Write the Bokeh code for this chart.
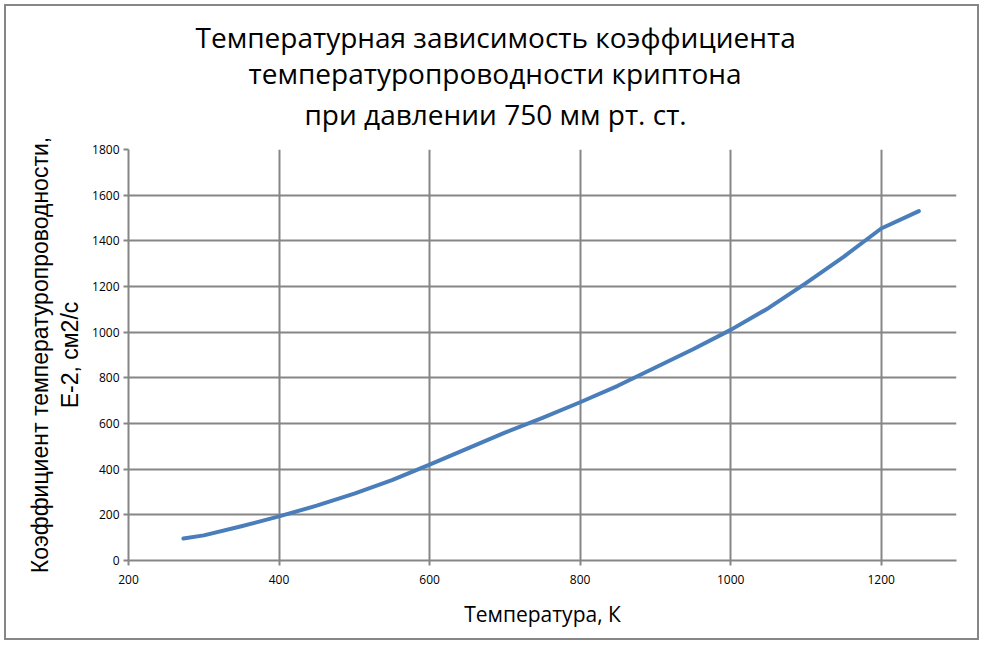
from bokeh.plotting import figure
from bokeh.models import FixedTicker, LinearAxis, Title
from bokeh.embed import file_html
from bokeh.resources import INLINE

# Data
temperature_K = [273, 300, 350, 400, 450, 500, 550, 600, 650, 700, 750, 800,
                 850, 900, 950, 1000, 1050, 1100, 1150, 1200, 1250]
diffusivity = [96, 110, 150, 193, 240, 293, 352, 420, 490, 560, 625, 693,
               765, 845, 925, 1010, 1105, 1215, 1330, 1454, 1530]

x_ticks = [200, 400, 600, 800, 1000, 1200]
y_ticks = [0, 200, 400, 600, 800, 1000, 1200, 1400, 1600, 1800]

title_lines = ["Температурная  зависимость  коэффициента",
               "температуропроводности  криптона",
               "при  давлении 750 мм рт. ст."]
y_label_lines = ["Коэффициент температуропроводности,", "E-2, см2/с"]
x_label = "Температура, К"

GRID = "#868686"
LINE = "#4a7ebb"

p = figure(width=975, height=636, x_range=(200, 1300), y_range=(0, 1800),
           output_backend="svg", toolbar_location=None, title=None,
           min_border_left=122, min_border_right=25,
           min_border_top=143, min_border_bottom=82)
p.outline_line_color = None
p.background_fill_color = "white"
p.border_fill_color = "white"
p.styles = {"margin": "4px", "border": "2px solid #868686"}

# Title: three lines centred on the chart, added from the frame outward
title_specs = [(33, "bottom", 176), (-30, "bottom", 120), (18, "top", 67)]
for txt, (so, va, off) in zip(reversed(title_lines), title_specs):
    p.add_layout(Title(text=txt, align="left", offset=off, vertical_align=va,
                       text_font="Open Sans", text_font_size="28px",
                       text_font_style="normal", text_color="black",
                       standoff=so), "above")

for ax in (p.xaxis, p.yaxis):
    ax.axis_line_color = GRID
    ax.axis_line_width = 2
    ax.major_tick_line_color = GRID
    ax.major_tick_line_width = 2
    ax.major_tick_out = 5
    ax.major_tick_in = 0
    ax.minor_tick_line_color = None
    ax.major_label_text_font = "Open Sans"
    ax.major_label_text_font_size = "12px"
    ax.major_label_text_color = "black"
    ax.axis_label_text_color = "black"
    ax.axis_label_text_font_style = "normal"

p.xaxis.ticker = FixedTicker(ticks=x_ticks)
p.yaxis.ticker = FixedTicker(ticks=y_ticks)
p.xaxis.major_label_standoff = 9
p.yaxis.major_label_standoff = 4

p.xaxis.axis_label = x_label
p.xaxis.axis_label_text_font = "Open Sans"
p.xaxis.axis_label_text_font_size = "21px"
p.xaxis.axis_label_standoff = 13

p.yaxis.axis_label = y_label_lines[1]
p.yaxis.axis_label_text_font = "Liberation Sans"
p.yaxis.axis_label_text_font_size = "23px"
p.yaxis.axis_label_standoff = 6

outer = LinearAxis(ticker=FixedTicker(ticks=[]), axis_label=y_label_lines[0],
                   axis_line_color=None, major_tick_line_color=None,
                   minor_tick_line_color=None, major_tick_out=0,
                   major_label_standoff=0, axis_label_standoff=2,
                   axis_label_text_font="Liberation Sans",
                   axis_label_text_font_size="23px",
                   axis_label_text_font_style="normal",
                   axis_label_text_color="black")
p.add_layout(outer, "left")

p.xgrid.ticker = FixedTicker(ticks=x_ticks)
p.ygrid.ticker = FixedTicker(ticks=y_ticks)
for g in (p.xgrid, p.ygrid):
    g.grid_line_color = GRID
    g.grid_line_width = 2

p.line(temperature_K, diffusivity, line_color=LINE, line_width=4,
       line_cap="round", line_join="round")

open("out.html", "w").write(file_html(p, INLINE))
